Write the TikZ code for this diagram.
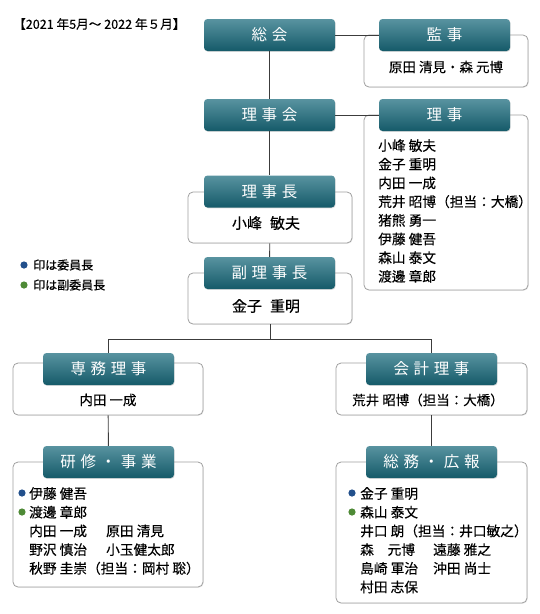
\documentclass[tikz,border=0pt]{standalone}
\usepackage{fontspec}
\setmainfont{Noto Sans CJK JP}[FakeBold=0.3]
\newfontfamily\kopfschrift[LetterSpace=30]{Noto Sans CJK JP}
\usepackage{tikz}
\usetikzlibrary{shadows}
\definecolor{kopfoben}{HTML}{5893A0}
\definecolor{kopfunten}{HTML}{155A69}
\definecolor{linienfarbe}{HTML}{3C3C3C}
\definecolor{rahmenfarbe}{HTML}{A0A0A0}
\definecolor{blau}{HTML}{22508C}
\definecolor{gruen}{HTML}{4E8A36}
\tikzset{
  kopf/.style={rounded corners=3.5pt, top color=kopfoben, bottom color=kopfunten,
    minimum width=131pt, minimum height=32pt, inner sep=0pt, text=white,
    font=\kopfschrift\fontsize{15.5}{18}\selectfont,
    drop shadow={opacity=0.25, shadow xshift=0.6pt, shadow yshift=-0.8pt}},
  rahmen/.style={draw=rahmenfarbe, line width=0.8pt, rounded corners=5pt, fill=white,
    inner sep=0pt,
    drop shadow={opacity=0.15, shadow xshift=0.8pt, shadow yshift=-0.8pt}},
  namen/.style={inner sep=0pt, font=\fontsize{13.5}{16}\selectfont},
  liste/.style={inner sep=0pt, anchor=north west, align=left,
    font=\fontsize{13.7}{18.7}\selectfont},
  linie/.style={draw=linienfarbe, line width=0.9pt}
}

\begin{document}
\begin{tikzpicture}[x=1pt, y=-1pt]

  \useasboundingbox (0,0) rectangle (540,614);

  % Zeitraum oben links
  \node[anchor=west, inner sep=0pt, font=\fontsize{12.6}{14}\selectfont] (zeitraum) at (13,24) {【2021 年5月～ 2022 年５月】};

  % Legende
  \fill[blau] (24,265) circle (3.6);
  \fill[gruen] (24,285) circle (3.6);
  \node[anchor=west, inner sep=0pt, font=\fontsize{12}{14}\selectfont] (legendeA) at (33,265) {印は委員長};
  \node[anchor=west, inner sep=0pt, font=\fontsize{12}{14}\selectfont] (legendeB) at (33,285) {印は副委員長};

  % Rahmen mit Namen
  \node[rahmen, minimum width=164pt, minimum height=52pt] (kanjiBox) at (446,61) {};
  \node[rahmen, minimum width=164pt, minimum height=175pt] (rijiBox) at (446,202.5) {};
  \node[rahmen, minimum width=164pt, minimum height=51pt] (rijichoBox) at (270,217.5) {};
  \node[rahmen, minimum width=164pt, minimum height=51pt] (fukuBox) at (270,298.5) {};
  \node[rahmen, minimum width=190pt, minimum height=52pt] (senmuBox) at (108,389) {};
  \node[rahmen, minimum width=191pt, minimum height=52pt] (kaikeiBox) at (431.5,389) {};
  \node[rahmen, minimum width=190pt, minimum height=125pt] (kenshuBox) at (108,524.5) {};
  \node[rahmen, minimum width=191pt, minimum height=141pt] (somuBox) at (431.5,532.5) {};

  % Kopfzeilen
  \node[kopf] (sokai) at (269.5,35) {総会};
  \node[kopf] (kanji) at (444.5,35) {監事};
  \node[kopf] (rijikai) at (269.5,115) {理事会};
  \node[kopf] (riji) at (444.5,115) {理事};
  \node[kopf] (rijicho) at (269.5,191.5) {理事長};
  \node[kopf] (fukuricho) at (269.5,273) {副理事長};
  \node[kopf] (senmu) at (108.5,369) {専務理事};
  \node[kopf] (kaikei) at (431.5,369) {会計理事};
  \node[kopf] (kenshu) at (108.5,462) {研修・事業};
  \node[kopf] (somu) at (431.5,462) {総務・広報};

  % Namen
  \node[namen] (kanjiName) at (446,67) {原田 清見・森 元博};
  \node[namen, font=\fontsize{15}{17}\selectfont] (rijichoName) at (266,223) {小峰\hspace{8pt}敏夫};
  \node[namen, font=\fontsize{15}{17}\selectfont] (fukuName) at (266,306) {金子\hspace{8pt}重明};
  \node[namen] (senmuName) at (108,400) {内田 一成};
  \node[namen] (kaikeiName) at (428,400) {荒井 昭博（担当：大橋）};

  \node[liste] (rijiListe) at (378,139) {小峰 敏夫\\金子 重明\\内田 一成\\荒井 昭博（担当：大橋）\\猪熊 勇一\\伊藤 健吾\\森山 泰文\\渡邊 章郎};
  \node[liste] (kenshuListe) at (29,487) {伊藤 健吾\\渡邊 章郎\\\makebox[77pt][l]{内田 一成}原田 清見\\\makebox[77pt][l]{野沢 慎治}小玉健太郎\\秋野 圭崇（担当：岡村 聡）};
  \node[liste] (somuListe) at (360,487) {金子 重明\\森山 泰文\\井口 朗（担当：井口敏之）\\\makebox[73pt][l]{森　元博}遠藤 雅之\\\makebox[73pt][l]{島崎 軍治}沖田 尚士\\村田 志保};

  % Punkte vor den Vorsitzenden
  \fill[blau] (22,493) circle (3.6);
  \fill[gruen] (22,512) circle (3.6);
  \fill[blau] (352,493) circle (3.6);
  \fill[gruen] (352,512) circle (3.6);

  % Verbindungslinien
  \coordinate (verzweigung) at (270,339);
  \draw[linie] (sokai) -- (kanji);
  \draw[linie] (rijikai) -- (riji);
  \draw[linie] (sokai) -- (rijikai);
  \draw[linie] (rijikai) -- (rijicho);
  \draw[linie] (rijichoBox) -- (fukuricho);
  \draw[linie] (fukuBox.south) -- (verzweigung);
  \draw[linie] (verzweigung) -| (senmu.north);
  \draw[linie] (verzweigung) -| (kaikei.north);
  \draw[linie] (senmuBox) -- (kenshu);
  \draw[linie] (kaikeiBox) -- (somu);

\end{tikzpicture}
\end{document}
